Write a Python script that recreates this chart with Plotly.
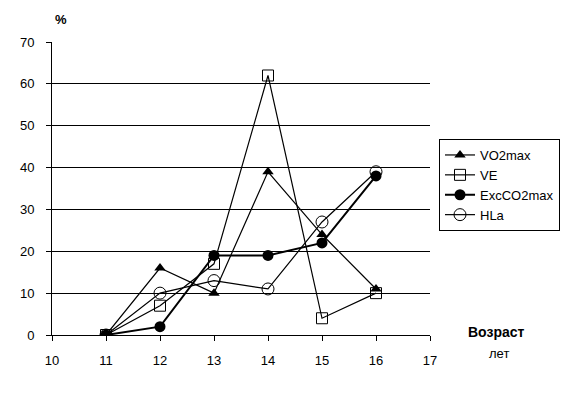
import plotly.graph_objects as go

ages = [11, 12, 13, 14, 15, 16]
vo2max = [0, 16, 10, 39, 24, 11]
ve = [0, 7, 17, 62, 4, 10]
exc_co2max = [0, 2, 19, 19, 22, 38]
hla = [0, 10, 13, 11, 27, 39]

x_ticks = [10, 11, 12, 13, 14, 15, 16, 17]
y_ticks = [0, 10, 20, 30, 40, 50, 60, 70]

fig = go.Figure()
fig.add_trace(go.Scatter(x=ages, y=vo2max, name="VO2max", mode="lines+markers", legendgroup="a",
                         line=dict(color="black", width=1.2),
                         marker=dict(symbol="triangle-up", size=10, color="black")))
fig.add_trace(go.Scatter(x=ages, y=ve, name="VE", mode="lines+markers", legendgroup="b",
                         line=dict(color="black", width=1.2),
                         marker=dict(symbol="square-open", size=11, color="black", line=dict(width=1))))
fig.add_trace(go.Scatter(x=ages, y=exc_co2max, name="ExcCO2max", mode="lines+markers", legendgroup="c",
                         line=dict(color="black", width=2),
                         marker=dict(symbol="circle", size=11, color="black")))
fig.add_trace(go.Scatter(x=ages, y=hla, name="HLa", mode="lines+markers", legendgroup="d",
                         line=dict(color="black", width=1.2),
                         marker=dict(symbol="circle-open", size=12, color="black", line=dict(width=1))))

# page has an 8px body margin; plot area target: x 52..430, y 42..335
L, R, T, B = 52, 430, 42, 335
W, H = R - L, B - T


def px(x):
    return (x - L) / W


def py(y):
    return (B - y) / H


def label(text, x, y, size):
    return dict(text=text, x=px(x), y=py(y), xref="paper", yref="paper",
                xanchor="center", yanchor="middle", showarrow=False,
                font=dict(size=size))


fig.update_layout(
    width=578, height=393,
    margin=dict(l=L - 8, r=578 - R + 8, t=T - 8, b=393 - B + 8),
    paper_bgcolor="white", plot_bgcolor="white",
    font=dict(family="Liberation Sans, Arial, sans-serif", size=13, color="black"),
    showlegend=True,
    legend=dict(x=px(439), y=py(139), xanchor="left", yanchor="top",
                bordercolor="black", borderwidth=1, bgcolor="white",
                font=dict(size=13), tracegroupgap=0, itemwidth=30),
    xaxis=dict(range=[10, 17], tickvals=x_ticks, ticks="outside", ticklen=5,
               tickcolor="black", showline=True, linecolor="black", linewidth=1,
               showgrid=False, zeroline=False, ticklabelstandoff=8),
    yaxis=dict(range=[0, 70], tickvals=y_ticks, ticks="outside", ticklen=5,
               tickcolor="black", showline=True, linecolor="black", linewidth=1,
               showgrid=True, gridcolor="black", gridwidth=1, zeroline=False,
               ticklabelstandoff=9),
    annotations=[
        label("<b>%</b>", 61, 20, 13),
        label("<b>Возраст</b>", 496, 332, 14),
        label("лет", 499, 353, 13),
    ],
)
fig.write_html("out.html")
